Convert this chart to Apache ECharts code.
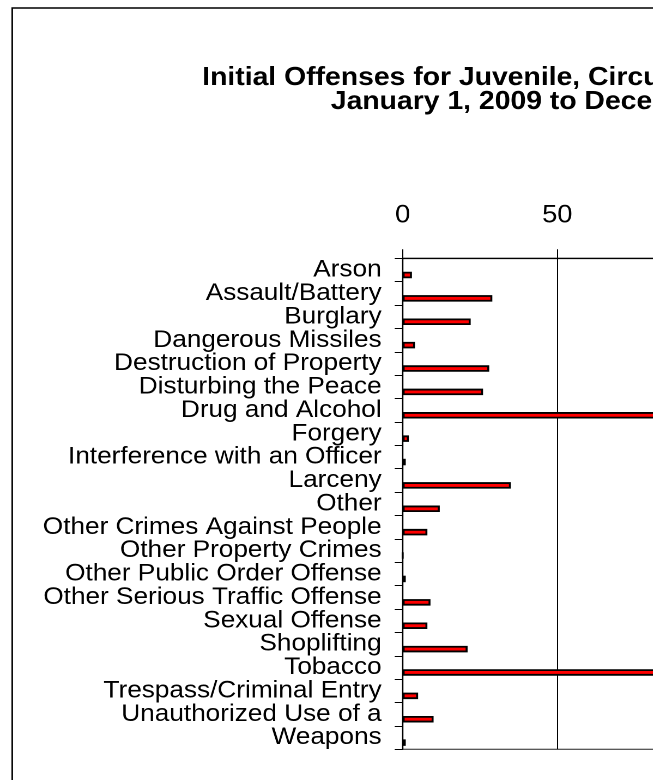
<!DOCTYPE html>
<html>
<head>
<meta charset="utf-8">
<script src="https://cdn.jsdelivr.net/npm/echarts@6/dist/echarts.min.js"></script>
<style>
  html, body { margin: 0; padding: 0; background: #fff; overflow: hidden; }
  #wrap { width: 653px; height: 780px; overflow: hidden; }
  #chart { width: 599px; height: 780px; transform: scaleX(1.09); transform-origin: 0 0; }
</style>
</head>
<body>
<div id="wrap"><div id="chart"></div></div>
<script>
const titleLine1 = 'Initial Offenses for Juvenile, Circuit Court';
const titleLine2 = 'January 1, 2009 to December 31, 2009';
const categories = [
  'Arson', 'Assault/Battery', 'Burglary', 'Dangerous Missiles',
  'Destruction of Property', 'Disturbing the Peace', 'Drug and Alcohol',
  'Forgery', 'Interference with an Officer', 'Larceny', 'Other',
  'Other Crimes Against People', 'Other Property Crimes',
  'Other Public Order Offense', 'Other Serious Traffic Offense',
  'Sexual Offense', 'Shoplifting', 'Tobacco', 'Trespass/Criminal Entry',
  'Unauthorized Use of a', 'Weapons'
];
const offenseCounts = [3, 29, 22, 4, 28, 26, 104, 2, 1, 35, 12, 8, 0, 1, 9, 8, 21, 92, 5, 10, 1];
const xTicks = { min: 0, max: 150, interval: 50 };

const chart = echarts.init(document.getElementById('chart'), null, { renderer: 'canvas', devicePixelRatio: 2 });
const font = 'Liberation Sans, Arial, sans-serif';
chart.setOption({
  animation: false,
  backgroundColor: '#fff',
  graphic: [{
    type: 'rect', left: 8.7, top: 5.5,
    shape: { width: 1200, height: 1200 },
    style: { fill: 'none', stroke: '#000', lineWidth: 1.5 }, z: 0
  }],
  title: [
    { text: titleLine1, left: 185.5, top: 65, padding: 0,
      textStyle: { fontFamily: font, fontWeight: 'bold', fontSize: 26, color: '#000' } },
    { text: titleLine2, left: 303.5, top: 89, padding: 0,
      textStyle: { fontFamily: font, fontWeight: 'bold', fontSize: 26, color: '#000' } }
  ],
  grid: { left: 369.4, top: 258.3, width: 425.5, height: 491, containLabel: false,
          outerBoundsMode: 'none',
          show: true, borderColor: '#222', borderWidth: 1 },
  xAxis: {
    type: 'value', position: 'top', min: xTicks.min, max: xTicks.max, interval: xTicks.interval,
    axisLine: { show: true, lineStyle: { color: '#000', width: 1.2 } },
    axisTick: { show: true, inside: false, length: 9, lineStyle: { color: '#000' } },
    axisLabel: { margin: 30, fontFamily: font, fontSize: 25, color: '#000' },
    splitLine: { show: true, lineStyle: { color: '#000', width: 1 } }
  },
  yAxis: {
    type: 'category', data: categories, inverse: true,
    axisLine: { show: true, lineStyle: { color: '#000', width: 1.2 } },
    axisTick: { show: true, inside: false, length: 7.3, alignWithLabel: false, lineStyle: { color: '#000' } },
    axisLabel: { interval: 0, margin: 19.3, fontFamily: font, fontSize: 24, color: '#000', lineHeight: 22 }
  },
  series: [
    { type: 'bar', name: 'spacer', data: [], barWidth: 5, barGap: '120%' },
    { type: 'bar', name: 'Offenses', data: offenseCounts, barWidth: 6.5, barGap: '100%',
      itemStyle: { color: '#ff0000', borderColor: '#000', borderWidth: 1.8 } }
  ]
});
</script>
</body>
</html>
